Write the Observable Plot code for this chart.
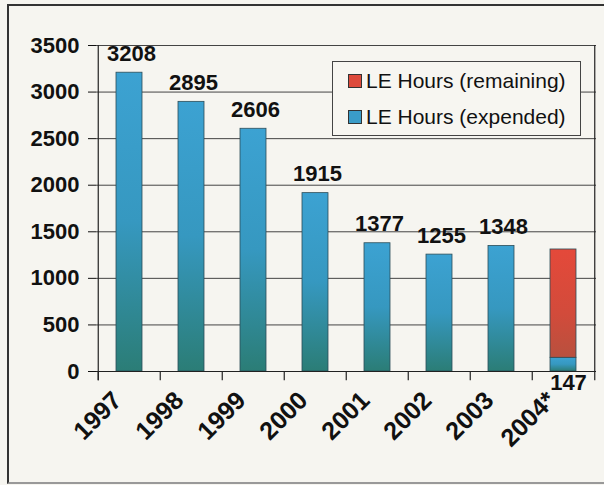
<!DOCTYPE html>
<html>
<head>
<meta charset="utf-8">
<script src="https://cdn.jsdelivr.net/npm/d3@7"></script>
<script src="https://cdn.jsdelivr.net/npm/@observablehq/plot@0.6"></script>
<style>
  html, body { margin: 0; padding: 0; background: #f6f5f0; }
  #wrap { position: relative; width: 604px; height: 485px; overflow: hidden; background: #f6f5f0; font-family: "Liberation Sans", Arial, sans-serif; }
  #wrap svg { position: absolute; left: 0; top: 0; }
  #border { position: absolute; left: 7px; top: 4px; width: 600px; height: 476px; border-left: 2px solid #333; border-top: 2px solid #333; border-bottom: 2px solid #999; }
  #legend { position: absolute; left: 332px; top: 61px; width: 249px; height: 75px; border: 1px solid #444; background: #f7f6f1; box-sizing: border-box; }
  .item { position: absolute; left: 15px; height: 24px; display: flex; align-items: center; font-size: 21px; color: #111; white-space: nowrap; }
  .sw { width: 12px; height: 12px; border: 1px solid #333; margin-right: 4px; }
</style>
</head>
<body>
<div id="wrap">
  <div id="border"></div>
</div>
<script>
const years = ["1997", "1998", "1999", "2000", "2001", "2002", "2003", "2004*"];
const expended = [3208, 2895, 2606, 1915, 1377, 1255, 1348, 147];
const remaining = [0, 0, 0, 0, 0, 0, 0, 1163];
const yTicks = [0, 500, 1000, 1500, 2000, 2500, 3000, 3500];
const seriesNames = ["LE Hours (remaining)", "LE Hours (expended)"];

const rows = [];
years.forEach((y, i) => rows.push({year: y, type: "expended", value: expended[i]}));
years.forEach((y, i) => { if (remaining[i] > 0) rows.push({year: y, type: "remaining", value: remaining[i]}); });

const labelsTop = years.map((y, i) => ({year: y, value: expended[i], idx: i})).filter(d => remaining[d.idx] === 0);
const labelsBelow = years.map((y, i) => ({year: y, value: expended[i], idx: i})).filter(d => remaining[d.idx] > 0);

const step = 62.5;
const lineColor = "#444";

const chart = Plot.plot({
  width: 604,
  height: 485,
  marginLeft: 96,
  marginRight: 8,
  marginTop: 45,
  marginBottom: 114,
  style: {background: "transparent", fontFamily: "'Liberation Sans', Arial, sans-serif", fontSize: "22px", fontWeight: "bold", color: "#111", overflow: "visible"},
  x: {domain: years, paddingInner: 0.58, paddingOuter: 0.29, axis: null},
  y: {domain: [0, 3500], ticks: yTicks, tickSize: 8, tickPadding: 9, tickFormat: d => String(d), label: null},
  color: {type: "identity"},
  marks: [
    Plot.ruleY(yTicks, {stroke: lineColor, strokeWidth: 1}),
    Plot.ruleX(years, {x: d => d, dx: -step / 2, y1: -100, y2: 0, stroke: "#222", strokeWidth: 1.2}),
    Plot.ruleX([years[0]], {x: d => d, dx: -step / 2, y1: -100, y2: 3500, stroke: "#222", strokeWidth: 1.2}),
    Plot.ruleX([years[years.length - 1]], {x: d => d, dx: step / 2, y1: -100, y2: 3500, stroke: "#222", strokeWidth: 1.2}),
    Plot.barY(rows, {x: "year", y: "value", fill: d => d.type === "expended" ? "url(#gBlue)" : "url(#gRed)", stroke: "#2c4d58", strokeWidth: 0.8}),
    Plot.ruleY([0], {stroke: "#222", strokeWidth: 1.2}),
    Plot.text(labelsTop, {x: "year", y: "value", text: d => String(d.value), dy: -19, dx: 2, fill: "#111", fontSize: 22, fontWeight: "bold"}),
    Plot.text(labelsBelow, {x: "year", y: 0, text: d => String(d.value), dy: 11, dx: 5, fill: "#111", fontSize: 22, fontWeight: "bold"}),
    Plot.text(years, {x: d => d, y: -265, text: d => d, rotate: -45, textAnchor: "end", dx: -12, fill: "#111", fontSize: 25, fontWeight: "bold"})
  ]
});

const defs = `<defs>
  <linearGradient id="gBlue" x1="0" y1="0" x2="0" y2="1">
    <stop offset="0" stop-color="#3ca2d2"/>
    <stop offset="0.5" stop-color="#3698c0"/>
    <stop offset="1" stop-color="#2b7d76"/>
  </linearGradient>
  <linearGradient id="gRed" x1="0" y1="0" x2="0" y2="1">
    <stop offset="0" stop-color="#e4493a"/>
    <stop offset="0.6" stop-color="#d24b3b"/>
    <stop offset="1" stop-color="#b8503e"/>
  </linearGradient>
</defs>`;
chart.insertAdjacentHTML("afterbegin", defs);

const wrap = document.getElementById("wrap");
wrap.insertBefore(chart, wrap.firstChild);

const legend = document.createElement("div");
legend.id = "legend";
const legendColors = ["#dd4a3b", "#3a9cc8"];
seriesNames.forEach((name, i) => {
  const it = document.createElement("div");
  it.className = "item";
  it.style.top = (i === 0 ? 7 : 43) + "px";
  const sw = document.createElement("span");
  sw.className = "sw";
  sw.style.background = legendColors[i];
  const tx = document.createElement("span");
  tx.textContent = name;
  it.appendChild(sw);
  it.appendChild(tx);
  legend.appendChild(it);
});
wrap.appendChild(legend);
</script>
</body>
</html>
